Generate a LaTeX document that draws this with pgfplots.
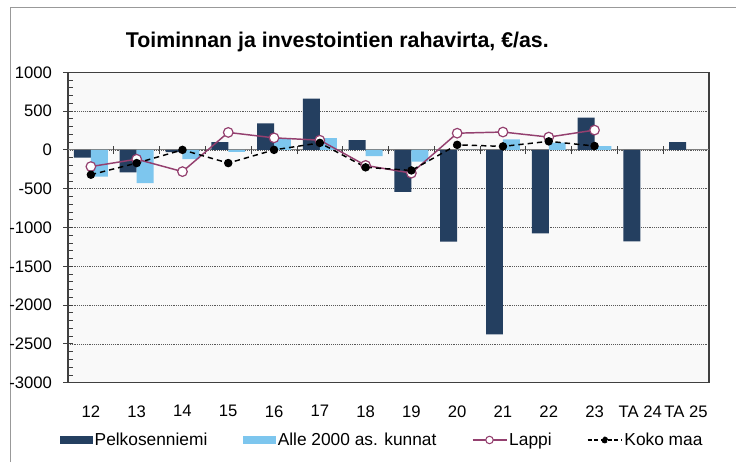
\documentclass[border=0pt]{standalone}
\usepackage{pgfplots}
\pgfplotsset{compat=1.18}
\usepackage{fontspec}
\setmainfont{Liberation Sans}
\definecolor{pelko}{HTML}{243F60}
\definecolor{alle}{HTML}{7DC6EE}
\definecolor{lappi}{HTML}{94406F}
\definecolor{framec}{HTML}{404040}

% x: 0 = 12, ..., 11 = 23, 12 = TA 24, 13 = TA 25
\pgfplotstableread{
x pelko alle
0 -100 -345
1 -290 -430
2 -30 -120
3 100 -25
4 340 140
5 660 150
6 125 -80
7 -540 -150
8 -1183 0
9 -2378 135
10 -1076 93
11 415 50
12 -1179 nan
13 100 nan
}\bars
\pgfplotstableread{
x lappi koko
0 -215 -320
1 -120 -170
2 -280 0
3 225 -170
4 155 0
5 125 90
6 -200 -225
7 -300 -265
8 215 65
9 230 45
10 165 110
11 255 50
}\lines

\begin{document}
\begin{tikzpicture}
\path[use as bounding box] (0,0) rectangle (552pt,-346.5pt);
\draw[gray!80, line width=0.75pt] (7.5pt,-346.5pt) -- (7.5pt,-5.25pt) -- (552pt,-5.25pt);
\node[font=\bfseries\fontsize{16}{19}\selectfont] at (253pt,-31.5pt) {Toiminnan ja investointien rahavirta, €/as.};
\begin{axis}[
  at={(51pt,-287pt)}, anchor=south west,
  scale only axis, width=480.75pt, height=232.8pt,
  xmin=-0.5, xmax=13.5, ymin=-3000, ymax=1000,
  xtick={0,...,13},
  xticklabels={12,13,14,15,16,17,18,19,20,21,22,23,TA 24,TA 25},
  major x tick style={draw=none},
  xticklabel style={yshift=-10pt},
  ytick={-3000,-2500,...,1000},
  ytick pos=left,
  minor y tick num=4,
  tick align=center,
  major tick length=7pt, minor tick length=4pt,
  y tick style={framec, line width=0.6pt},
  minor y tick style={xshift=2pt},
  yticklabel style={xshift=-5pt},
  ymajorgrids,
  grid style={densely dotted, gray!70!black, line width=0.5pt},
  axis background/.style={fill=gray!5},
  axis line style={framec, line width=1.1pt},
  tick label style={font=\fontsize{12.5}{14}\selectfont},
  /pgf/number format/assume math mode=true,
  /pgf/number format/1000 sep={},
  legend columns=4,
  legend cell align=left,
  legend style={draw=none, fill=none, at={(0.49,-0.1846)}, anchor=center,
    font=\fontsize{13}{15}\selectfont, nodes={inner sep=1.5pt},
    /tikz/every even column/.append style={column sep=25pt}},
]
\draw[gray, line width=0.8pt] (axis cs:-0.5,0) -- (axis cs:13.5,0);
\pgfplotsinvokeforeach{0,...,12}{
  \draw[framec, line width=0.6pt] (axis cs:#1+0.5,-55) -- (axis cs:#1+0.5,55);
}
\addplot[ybar, bar width=0.37, bar shift=-0.185, fill=pelko, draw=none,
  legend image code/.code={\fill[pelko] (0pt,-3pt) rectangle (24.75pt,3pt);}]
  table[x=x, y=pelko] {\bars};
\addlegendentry{Pelkosenniemi}
\addplot[ybar, bar width=0.37, bar shift=0.185, fill=alle, draw=none,
  legend image code/.code={\fill[alle] (0pt,-3pt) rectangle (24.75pt,3pt);}]
  table[x=x, y=alle] {\bars};
\addlegendentry{Alle 2000 as. kunnat}
\addplot[lappi, line width=1.1pt, mark=*, mark size=3.6pt,
  mark options={solid, fill=white, draw=lappi, line width=0.9pt},
  legend image code/.code={\draw[lappi, line width=1.1pt] (0pt,0pt) -- (25.5pt,0pt);
    \draw[lappi, fill=white, line width=0.8pt] (12.75pt,0pt) circle (2.8pt);}]
  table[x=x, y=lappi] {\lines};
\addlegendentry{Lappi}
\addplot[black, line width=1.1pt, dash pattern=on 4pt off 3pt, mark=*, mark size=2.6pt,
  mark options={solid, fill=black},
  legend image code/.code={\draw[black, line width=1.1pt, dash pattern=on 3pt off 2pt] (0pt,0pt) -- (25.5pt,0pt);
    \fill[black] (12.75pt,0pt) circle (2pt);}]
  table[x=x, y=koko] {\lines};
\addlegendentry{Koko maa}
\end{axis}
\end{tikzpicture}
\end{document}
